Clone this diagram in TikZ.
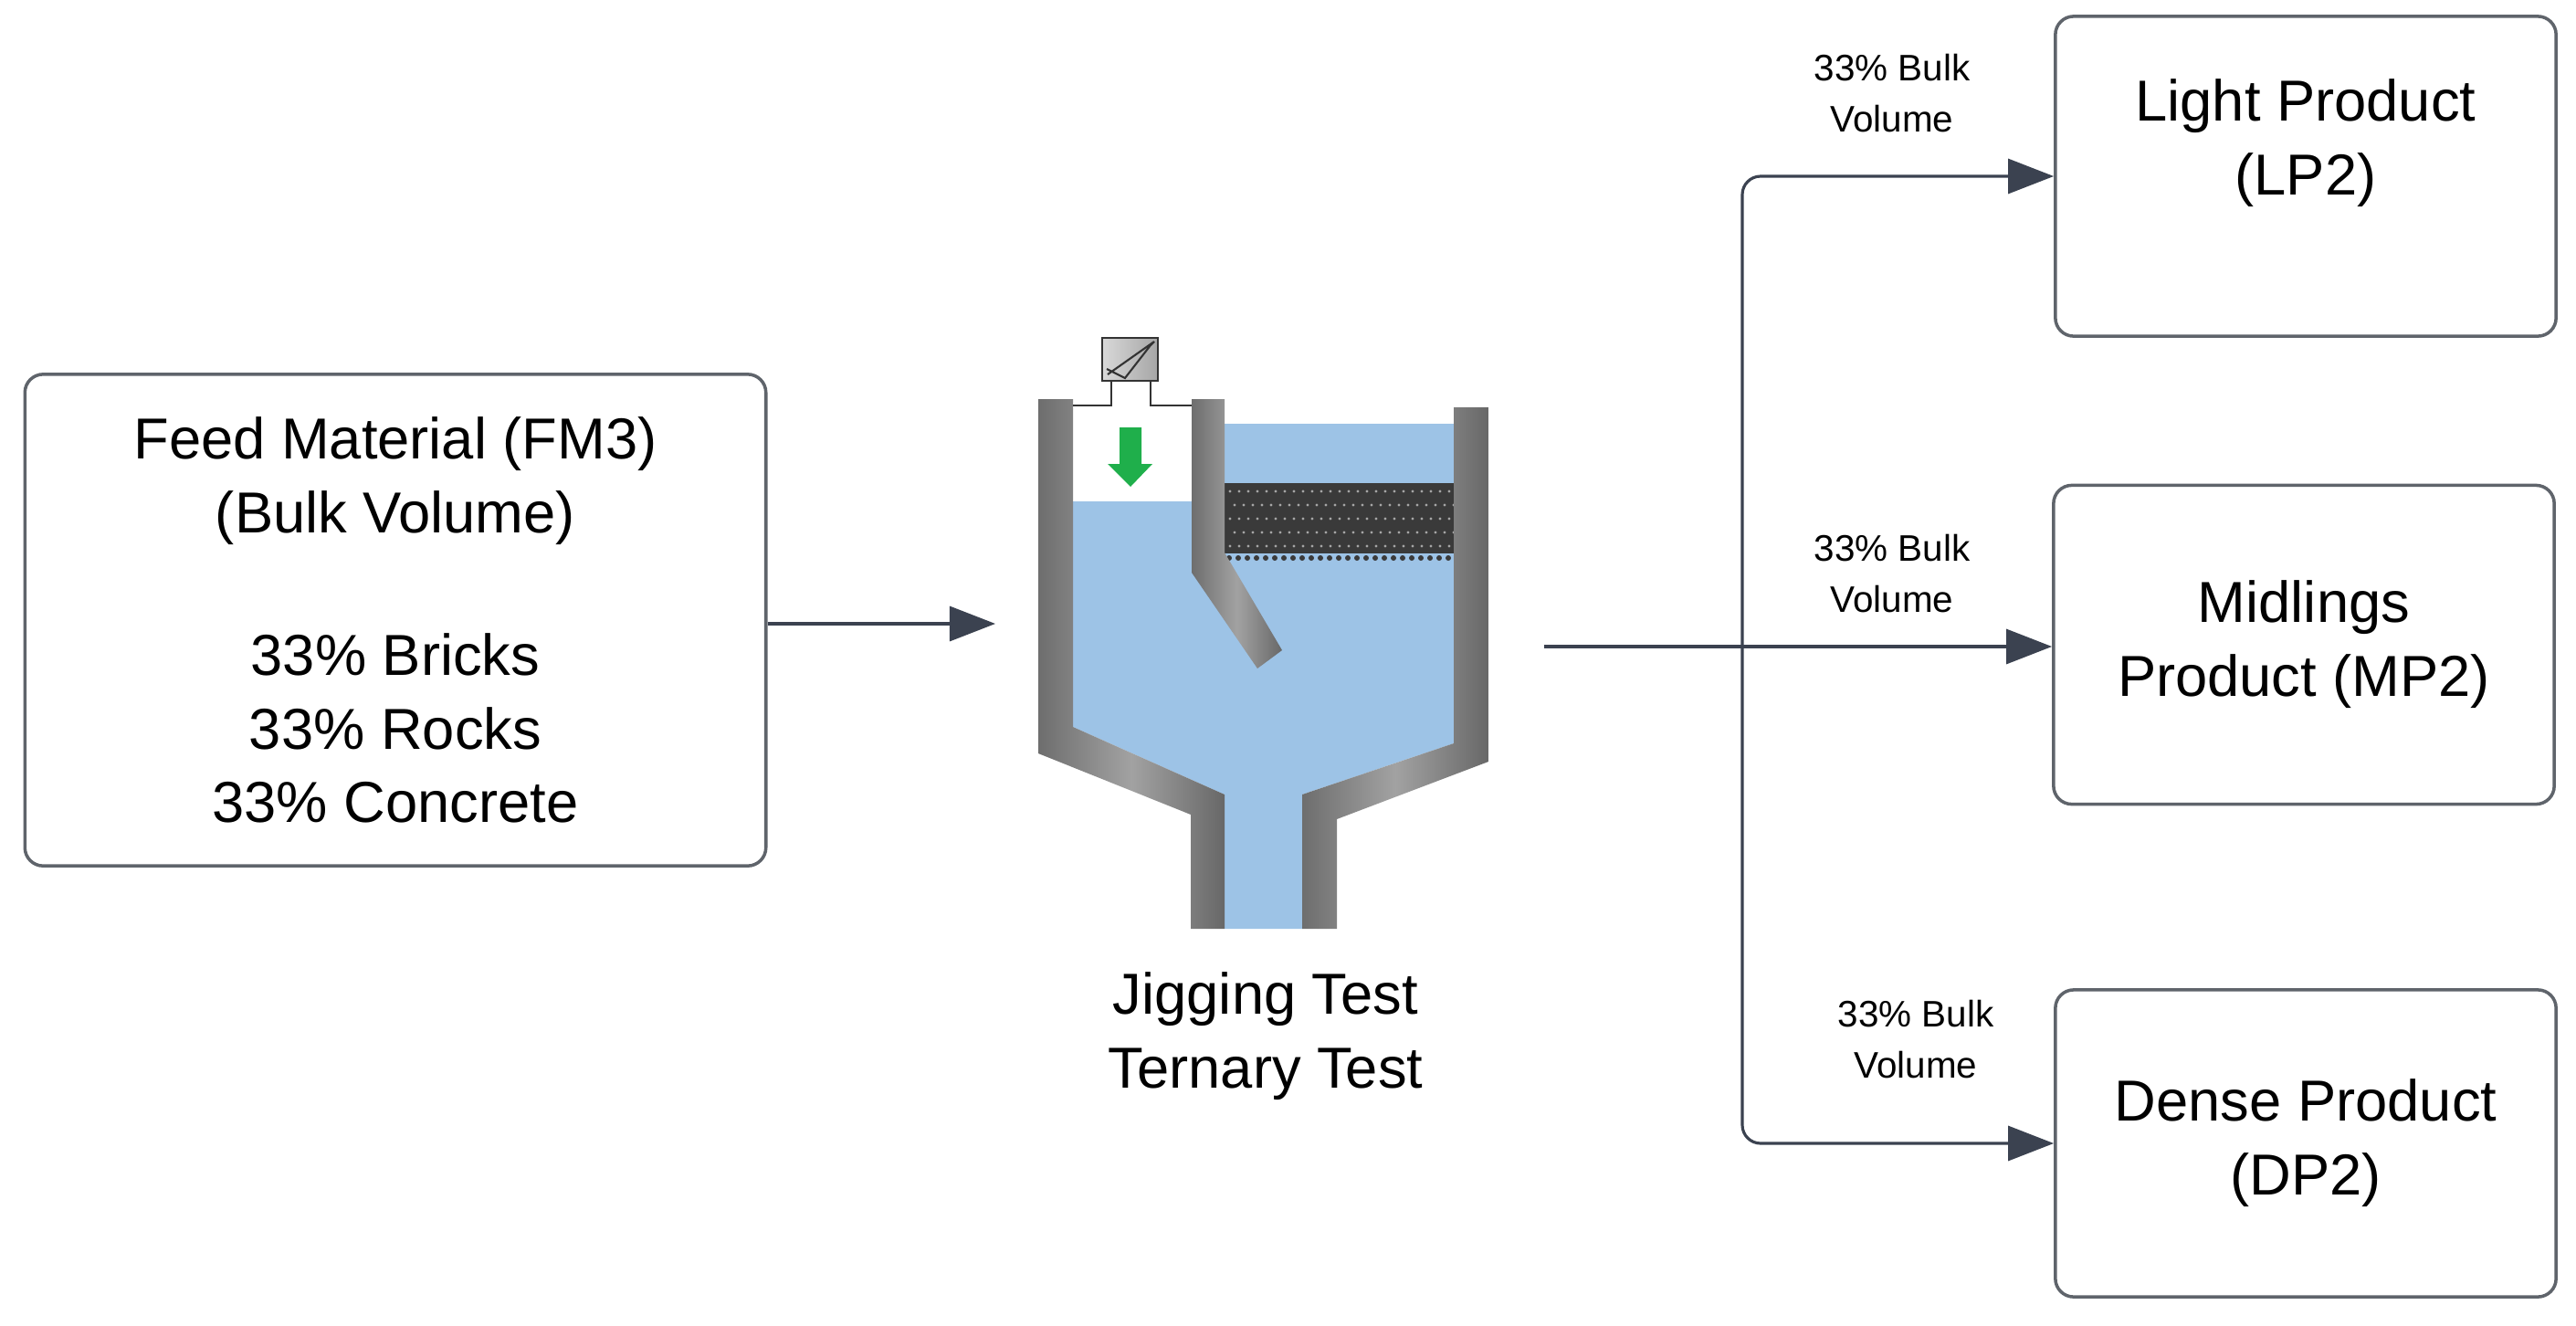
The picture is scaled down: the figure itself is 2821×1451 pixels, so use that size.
\documentclass[tikz,border=0pt]{standalone}
\usepackage{fontspec}
\setmainfont{Liberation Sans}
\usetikzlibrary{arrows.meta,positioning}
\definecolor{linegray}{HTML}{3B4250}
\definecolor{boxgray}{HTML}{5F646B}
\definecolor{water}{HTML}{9DC3E6}
\definecolor{wall}{HTML}{7A7A7A}
\definecolor{bedgray}{HTML}{3A3A3A}
\definecolor{pushgreen}{HTML}{1FAF4B}

\begin{document}
\begin{tikzpicture}[
        x=0.01cm, y=-0.01cm,
        box/.style = {draw=boxgray, line width=1pt, rounded corners=0.2cm,
            minimum width=5.48cm, align=center, font=\fontsize{18}{23}\selectfont},
        share/.style = {align=center, font=\fontsize{11.5}{16}\selectfont},
        flow/.style = {draw=linegray, line width=0.9pt, -{Triangle[length=0.5cm,width=0.38cm]}},
        wallpart/.style = {left color=wall!90!black, right color=wall!85!black, middle color=wall!70}]
        \useasboundingbox (0,0) rectangle (2821,1451);
        % NODES
        % feed box
        \node[box, minimum width=8.11cm, minimum height=5.38cm] (FM) at (433,679)
            {Feed Material (FM3)\\(Bulk Volume)\\[0.75cm]33\% Bricks\\33\% Rocks\\33\% Concrete};
        % product boxes
        \node[box, minimum height=3.5cm] (LP) at (2525,193) {Light Product\\(LP2)\\[0.05cm]};
        \node[box, minimum height=3.49cm] (MP) at (2523,706) {Midlings\\Product (MP2)};
        \node[box, minimum height=3.36cm] (DP) at (2525,1252) {Dense Product\\(DP2)};
        % jig caption
        \node[box, draw=none, minimum width=0cm] (Cap) at (1386,1135) {Jigging Test\\Ternary Test};
        % share labels
        \node[share] (sLP) at (2072,102) {33\% Bulk\\Volume};
        \node[share] (sMP) at (2072,628) {33\% Bulk\\Volume};
        \node[share] (sDP) at (2098,1138) {33\% Bulk\\Volume};
        % jig ends
        \coordinate (jigin) at (1090,683);
        \coordinate (jigout) at (1691,708);
        \coordinate (split) at (1908,708);

        % JIG
        \fill[water] (1175,549) -- (1320,549) -- (1320,464) -- (1592,464) -- (1592,814)
            -- (1426,870) -- (1426,1017) -- (1341,1017) -- (1341,870) -- (1175,796) -- cycle;
        \fill[bedgray] (1341,529) rectangle (1592,606);
        \foreach \i in {0,...,24} {
            \foreach \j in {0,...,4} {
                \fill[gray!70] ({1347+\i*10+mod(\j,2)*5},{538+\j*15}) circle (1.6);
            }
            \fill[bedgray] ({1346+\i*10},611) circle (3);
        }
        \path[wallpart] (1137,437) -- (1175,437) -- (1175,796) -- (1341,870) -- (1341,1017)
            -- (1304,1017) -- (1304,892) -- (1137,825) -- cycle;
        \path[wallpart] (1592,446) -- (1630,446) -- (1630,834) -- (1464,897) -- (1464,1017)
            -- (1426,1017) -- (1426,870) -- (1592,814) -- cycle;
        \path[wallpart] (1305,437) -- (1341,437) -- (1341,605) -- (1404,712) -- (1377,732)
            -- (1305,627) -- cycle;
        % pulsator
        \draw[black!80, line width=0.6pt] (1175,444) -- (1217,444) -- (1217,417)
            (1260,417) -- (1260,444) -- (1305,444);
        \draw[black!80, line width=0.6pt, left color=gray!30, right color=gray!70] (1207,370) rectangle (1268,417);
        \draw[black!80, line width=0.6pt] (1213,410) -- (1264,374) (1212,404) -- (1232,414) -- (1260,378) -- (1264,374);
        \fill[pushgreen] (1226,468) -- (1250,468) -- (1250,508) -- (1262,508) -- (1238,533)
            -- (1213,508) -- (1226,508) -- cycle;

        % ARROWS
        \draw[flow] (FM.east |- jigin) -- (jigin);
        \draw[draw=linegray, line width=0.9pt] (jigout) -- (split);
        \draw[flow, rounded corners=0.2cm] (split) |- (LP.west);
        \draw[flow] (split) -- (MP.west |- split);
        \draw[flow, rounded corners=0.2cm] (split) |- (DP.west);
\end{tikzpicture}
\end{document}
